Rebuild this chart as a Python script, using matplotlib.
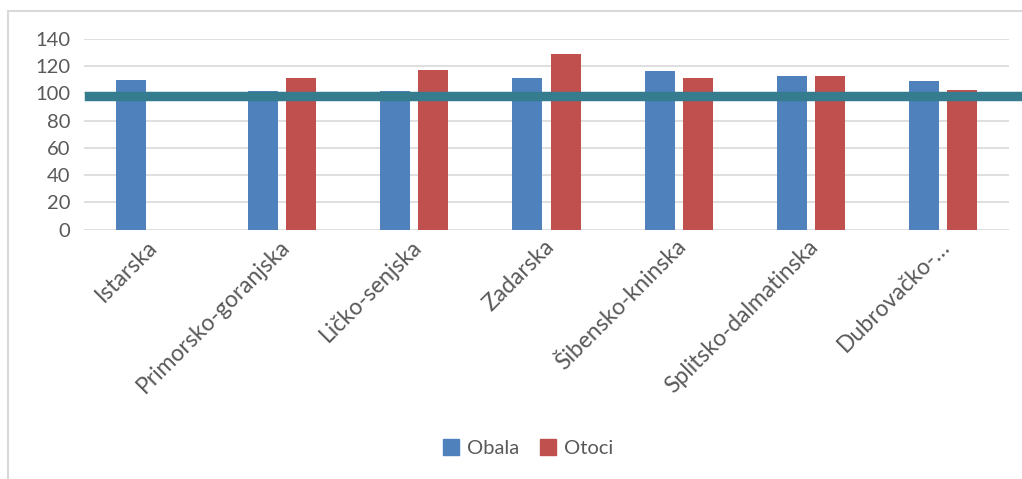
import matplotlib
matplotlib.use("Agg")
import matplotlib.pyplot as plt
from matplotlib.patches import Rectangle
import numpy as np

categories = ["Istarska", "Primorsko-goranjska", "Ličko-senjska", "Zadarska",
              "Šibensko-kninska", "Splitsko-dalmatinska", "Dubrovačko-…"]
obala = [110, 101.5, 101.5, 111, 116, 113, 109]
otoci = [np.nan, 111, 117, 129, 111, 113, 102.5]
reference_level = 98
yticks = [0, 20, 40, 60, 80, 100, 120, 140]

plt.rcParams['font.family'] = ['Lato', 'DejaVu Sans']
W, H = 1022, 479
fig = plt.figure(figsize=(W / 100, H / 100), dpi=100)

# outer chart frame
fig.patches.append(Rectangle((8 / W, -0.01), 1.02, 1 - 10.7 / H + 0.01,
                             transform=fig.transFigure, fill=False,
                             edgecolor='#d9d9d9', linewidth=1.5))

ax = fig.add_axes([84 / W, 1 - 229.7 / H, (1009 - 84) / W, (229.7 - 38.7) / H])
x = np.arange(len(categories))
bw = 0.227
off = 0.1438
ax.bar(x - off, obala, bw, color='#4f81bd', zorder=2)
ax.bar(x + off, otoci, bw, color='#c0504d', zorder=2)

ax.set_xlim(-0.5, len(categories) - 0.5)
ax.set_ylim(0, 140)
ax.set_yticks(yticks)
ax.set_yticklabels([str(v) for v in yticks], fontsize=14.5, color='#595959')
ax.yaxis.grid(True, color='#d9d9d9', linewidth=1.2, zorder=0)
ax.set_axisbelow(True)
for s in ax.spines.values():
    s.set_visible(False)
ax.tick_params(axis='y', length=0, pad=10)
ax.tick_params(axis='x', length=0)

ax.axhline(reference_level, xmin=5 / 925, xmax=(1022 - 84) / 925, color='#357d8e',
           linewidth=6.8, clip_on=False, zorder=3)

ax.set_xticks(x)
ax.set_xticklabels([])
for i, lab in enumerate(categories):
    ax.annotate(lab, xy=(i + 0.03, 0), xycoords='data', xytext=(0, -10),
                textcoords='offset points', rotation=45, ha='right', va='center',
                rotation_mode='anchor', fontsize=16.5, color='#595959')

handles = [Rectangle((0, 0), 1, 1, color='#4f81bd'), Rectangle((0, 0), 1, 1, color='#c0504d')]
fig.legend(handles, ['Obala', 'Otoci'], loc='center', bbox_to_anchor=(528 / W, 1 - 448 / H),
           ncol=2, frameon=False, fontsize=14.5, labelcolor='#595959',
           handlelength=0.8, handleheight=0.8, handletextpad=0.4, columnspacing=1.0)

fig.savefig('out.png', dpi=100)
